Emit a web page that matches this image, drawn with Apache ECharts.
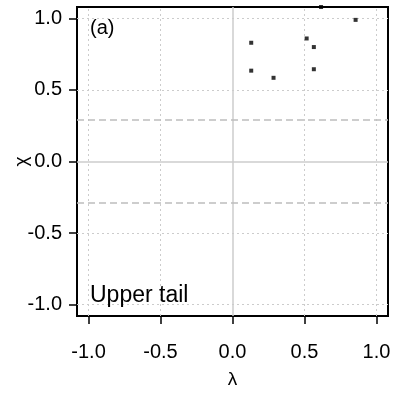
<!DOCTYPE html>
<html><head><meta charset="utf-8">
<script src="https://cdn.jsdelivr.net/npm/echarts@6/dist/echarts.min.js"></script>
<style>html,body{margin:0;padding:0;background:#fff}#c{width:397px;height:396px}</style>
</head><body><div id="c"></div>
<script>
var lambda = [0.13, 0.13, 0.285, 0.515, 0.565, 0.565, 0.855, 0.615];
var chi = [0.83, 0.635, 0.585, 0.86, 0.80, 0.645, 0.99, 1.08];
var xTicks = [-1.0, -0.5, 0.0, 0.5, 1.0];
var yTicks = [-1.0, -0.5, 0.0, 0.5, 1.0];
var xDotted = [-1.0, -0.5, 0.5, 1.0];
var yDotted = [-1.0, -0.5, 0.5, 1.0];
var dashedY = [0.29, -0.29];
var panelLabel = '(a)';
var tailLabel = 'Upper tail';

var points = lambda.map(function (l, i) { return [l, chi[i]]; });
var FONT = 'Liberation Sans, Arial, sans-serif';
var chart = echarts.init(document.getElementById('c'), null, {renderer: 'canvas'});
function ml(data, color, type, width) {
  return {type: 'line', data: [], markLine: {silent: true, symbol: 'none', label: {show: false},
    animation: false, lineStyle: {color: color, type: type, width: width}, data: data}};
}
var series = [
  ml(xDotted.map(function (v) { return {xAxis: v}; }).concat(yDotted.map(function (v) { return {yAxis: v}; })), '#cccccc', [2, 3], 1),
  ml([{xAxis: 0}, {yAxis: 0}], '#cccccc', 'solid', 1.5),
  ml(dashedY.map(function (v) { return {yAxis: v}; }), '#bdbdbd', [7, 4], 1.5),
  {type: 'scatter', data: points, symbol: 'rect', symbolSize: 4, itemStyle: {color: '#000'}, clip: true, z: 5}
];
chart.setOption({
  animation: false,
  grid: {left: 77, right: 9, top: 7, bottom: 80, containLabel: false, outerBoundsMode: 'none',
    show: true, borderColor: '#000', borderWidth: 2, backgroundColor: 'transparent'},
  xAxis: {type: 'value', min: -1.08, max: 1.08, name: 'λ', nameLocation: 'middle', nameGap: 54, nameMoveOverlap: false,
    nameTextStyle: {fontFamily: FONT, fontSize: 19, color: '#000'},
    axisLine: {show: true, onZero: false, lineStyle: {color: '#000', width: 2}}, splitLine: {show: false},
    axisTick: {show: true, inside: true, length: -8, customValues: xTicks, lineStyle: {color: '#000', width: 1.5}},
    axisLabel: {customValues: xTicks, fontFamily: FONT, fontSize: 20, color: '#000', margin: 26,
      formatter: function (v) { return v.toFixed(1); }}},
  yAxis: {type: 'value', min: -1.08, max: 1.08, name: 'χ', nameLocation: 'middle', nameGap: 46, nameRotate: 90, nameMoveOverlap: false,
    nameTextStyle: {fontFamily: FONT, fontSize: 19, color: '#000'},
    axisLine: {show: true, onZero: false, lineStyle: {color: '#000', width: 2}}, splitLine: {show: false},
    axisTick: {show: true, inside: true, length: -8, customValues: yTicks, lineStyle: {color: '#000', width: 1.5}},
    axisLabel: {customValues: yTicks, fontFamily: FONT, fontSize: 20, color: '#000', margin: 15,
      formatter: function (v) { return v.toFixed(1); }}},
  graphic: [
    {type: 'text', left: 90, top: 18, style: {text: panelLabel, font: '20px ' + FONT, fill: '#000'}, z: 10},
    {type: 'text', left: 90, top: 284, style: {text: tailLabel, font: '23px ' + FONT, fill: '#000'}, z: 10}
  ],
  series: series
});
</script></body></html>
